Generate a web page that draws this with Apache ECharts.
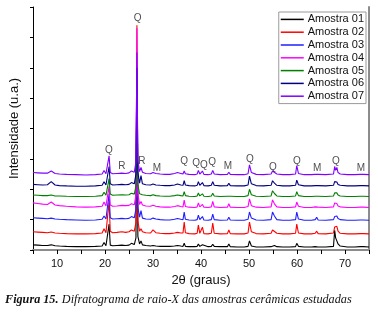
<!DOCTYPE html>
<html>
<head>
<meta charset="utf-8">
<script src="https://cdn.jsdelivr.net/npm/echarts@6/dist/echarts.min.js"></script>
<style>
  html, body { margin: 0; padding: 0; background: #fff; }
  #chart { width: 378px; height: 315px; }
</style>
</head>
<body>
<div id="chart"></div>
<script>
// 2θ grid shared by all samples
const twoTheta = [
  5, 6, 7, 8, 8.8, 9.6, 10.5, 12, 14, 16,
  18, 19.4, 19.8, 20.2, 20.6, 20.85, 21.1, 21.6, 22.5, 23.5,
  24.3, 25, 25.5, 26.1, 26.45, 26.65, 26.85, 27.2, 27.5, 27.8,
  28.5, 29.5, 30, 30.6, 31.5, 32.5, 33.5, 34.5, 35.1, 35.8,
  36.25, 36.5, 36.75, 37.5, 38.7, 39.2, 39.45, 39.75, 40.05, 40.3,
  40.6, 41.5, 42.15, 42.45, 42.75, 44, 45.5, 45.8, 46.1, 47.5,
  49, 49.8, 50.1, 50.5, 51.5, 53, 54.6, 54.9, 55.3, 55.8,
  57, 58.5, 59.7, 59.95, 60.3, 61.5, 63, 63.8, 64.1, 64.4,
  66, 67.6, 67.85, 68.05, 68.3, 68.55, 69, 70.5, 72, 73.2,
  73.5, 73.8, 75
]

// intensities (u.a., already offset as plotted)
const amostra01 = [
  0.17, 0.16, 0.15, 0.15, 0.17, 0.14, 0.13, 0.12, 0.11, 0.11,
  0.12, 0.13, 0.25, 0.14, 0.16, 0.85, 0.16, 0.14, 0.15, 0.16,
  0.15, 0.16, 0.22, 0.18, 0.4, 5.0, 0.45, 0.2, 0.3, 0.17,
  0.15, 0.13, 0.15, 0.13, 0.12, 0.12, 0.12, 0.13, 0.15, 0.13,
  0.12, 0.22, 0.12, 0.11, 0.11, 0.12, 0.2, 0.12, 0.12, 0.17,
  0.11, 0.11, 0.12, 0.19, 0.12, 0.11, 0.11, 0.2, 0.11, 0.1,
  0.1, 0.12, 0.3, 0.13, 0.1, 0.1, 0.11, 0.16, 0.15, 0.11,
  0.1, 0.1, 0.11, 0.22, 0.12, 0.1, 0.1, 0.11, 0.15, 0.1,
  0.1, 0.12, 0.65, 0.4, 0.3, 0.2, 0.13, 0.1, 0.1, 0.11,
  0.16, 0.11, 0.1
]
const amostra02 = [
  0.6, 0.59, 0.58, 0.57, 0.59, 0.56, 0.55, 0.54, 0.53, 0.53,
  0.54, 0.56, 0.7, 0.57, 0.6, 1.6, 0.62, 0.57, 0.58, 0.6,
  0.58, 0.6, 0.66, 0.62, 0.9, 7.4, 0.95, 0.62, 0.7, 0.6,
  0.57, 0.56, 0.66, 0.57, 0.55, 0.54, 0.54, 0.56, 0.58, 0.56,
  0.56, 0.92, 0.57, 0.54, 0.53, 0.55, 0.82, 0.55, 0.56, 0.75,
  0.54, 0.53, 0.55, 0.89, 0.55, 0.53, 0.54, 0.66, 0.54, 0.53,
  0.53, 0.56, 0.92, 0.6, 0.54, 0.53, 0.55, 0.66, 0.64, 0.55,
  0.53, 0.53, 0.55, 0.85, 0.56, 0.53, 0.53, 0.55, 0.62, 0.54,
  0.53, 0.56, 0.76, 0.72, 0.78, 0.62, 0.55, 0.53, 0.53, 0.54,
  0.58, 0.54, 0.53
]
const amostra03 = [
  1.06, 1.05, 1.04, 1.03, 1.05, 1.02, 1.01, 1.0, 0.99, 0.98,
  0.99, 1.01, 1.12, 1.02, 1.05, 1.85, 1.06, 1.02, 1.03, 1.04,
  1.03, 1.04, 1.1, 1.06, 1.35, 5.8, 1.4, 1.08, 1.3, 1.05,
  1.02, 1.01, 1.05, 1.02, 1.0, 0.99, 0.99, 1.01, 1.04, 1.01,
  1.0, 1.25, 1.01, 0.99, 0.98, 1.0, 1.15, 1.0, 1.0, 1.1,
  0.99, 0.98, 1.0, 1.18, 1.0, 0.98, 0.99, 1.08, 0.99, 0.98,
  0.98, 1.01, 1.25, 1.05, 0.99, 0.98, 1.0, 1.25, 1.12, 1.0,
  0.98, 0.98, 1.0, 1.25, 1.02, 0.98, 0.98, 1.0, 1.08, 0.99,
  0.98, 1.0, 1.1, 1.12, 1.12, 1.04, 1.0, 0.98, 0.98, 0.99,
  1.03, 0.99, 0.98
]
const amostra04 = [
  1.55, 1.53, 1.51, 1.5, 1.58, 1.48, 1.46, 1.44, 1.42, 1.41,
  1.42, 1.44, 1.58, 1.45, 1.48, 2.1, 1.48, 1.44, 1.45, 1.47,
  1.46, 1.47, 1.52, 1.49, 1.8, 7.3, 1.85, 1.5, 1.6, 1.48,
  1.45, 1.44, 1.47, 1.44, 1.42, 1.41, 1.41, 1.43, 1.46, 1.43,
  1.42, 1.64, 1.43, 1.41, 1.4, 1.42, 1.55, 1.42, 1.42, 1.5,
  1.41, 1.4, 1.42, 1.6, 1.42, 1.4, 1.41, 1.52, 1.41, 1.4,
  1.4, 1.43, 1.68, 1.46, 1.41, 1.4, 1.42, 1.65, 1.52, 1.42,
  1.4, 1.4, 1.42, 1.58, 1.44, 1.4, 1.4, 1.42, 1.46, 1.41,
  1.4, 1.42, 1.55, 1.5, 1.53, 1.45, 1.42, 1.4, 1.4, 1.41,
  1.45, 1.41, 1.4
]
const amostra05 = [
  1.81, 1.8, 1.79, 1.79, 1.81, 1.78, 1.78, 1.77, 1.76, 1.76,
  1.77, 1.79, 1.9, 1.8, 1.83, 2.35, 1.84, 1.8, 1.81, 1.82,
  1.81, 1.82, 1.87, 1.84, 2.1, 5.5, 2.15, 1.85, 1.9, 1.82,
  1.8, 1.79, 1.82, 1.79, 1.78, 1.77, 1.77, 1.79, 1.81, 1.79,
  1.78, 1.92, 1.79, 1.77, 1.76, 1.78, 1.88, 1.78, 1.78, 1.85,
  1.77, 1.76, 1.78, 1.87, 1.78, 1.76, 1.77, 1.82, 1.77, 1.76,
  1.76, 1.79, 2.0, 1.82, 1.77, 1.76, 1.78, 1.95, 1.86, 1.78,
  1.76, 1.76, 1.78, 1.92, 1.79, 1.76, 1.76, 1.77, 1.8, 1.77,
  1.76, 1.78, 1.88, 1.85, 1.88, 1.81, 1.78, 1.76, 1.76, 1.77,
  1.8, 1.77, 1.76
]
const amostra06 = [
  2.16, 2.15, 2.14, 2.15, 2.25, 2.14, 2.12, 2.11, 2.1, 2.1,
  2.11, 2.13, 2.25, 2.14, 2.17, 2.75, 2.18, 2.14, 2.15, 2.16,
  2.15, 2.16, 2.22, 2.18, 2.5, 6.0, 2.55, 2.2, 2.45, 2.18,
  2.15, 2.14, 2.17, 2.14, 2.13, 2.12, 2.12, 2.14, 2.17, 2.14,
  2.13, 2.28, 2.14, 2.12, 2.11, 2.13, 2.25, 2.13, 2.13, 2.22,
  2.12, 2.11, 2.13, 2.25, 2.13, 2.11, 2.12, 2.2, 2.12, 2.11,
  2.11, 2.14, 2.43, 2.18, 2.12, 2.11, 2.13, 2.28, 2.2, 2.13,
  2.11, 2.11, 2.13, 2.3, 2.15, 2.11, 2.11, 2.12, 2.18, 2.12,
  2.11, 2.13, 2.25, 2.2, 2.24, 2.16, 2.13, 2.11, 2.11, 2.12,
  2.17, 2.12, 2.11
]
const amostra07 = [
  2.55, 2.54, 2.53, 2.53, 2.6, 2.52, 2.5, 2.49, 2.48, 2.47,
  2.48, 2.5, 2.62, 2.51, 2.54, 3.1, 2.55, 2.51, 2.52, 2.53,
  2.52, 2.54, 2.6, 2.56, 2.9, 6.5, 2.95, 2.58, 2.72, 2.56,
  2.52, 2.51, 2.55, 2.52, 2.5, 2.49, 2.49, 2.52, 2.55, 2.52,
  2.5, 2.6, 2.51, 2.49, 2.48, 2.5, 2.62, 2.5, 2.5, 2.6,
  2.49, 2.48, 2.5, 2.62, 2.5, 2.48, 2.49, 2.56, 2.49, 2.48,
  2.48, 2.51, 2.8, 2.55, 2.49, 2.48, 2.5, 2.6, 2.55, 2.5,
  2.48, 2.48, 2.5, 2.78, 2.52, 2.48, 2.48, 2.49, 2.53, 2.49,
  2.48, 2.5, 2.75, 2.62, 2.72, 2.55, 2.5, 2.48, 2.48, 2.49,
  2.55, 2.49, 2.48
]

const sampleNames = ["Amostra 01", "Amostra 02", "Amostra 03", "Amostra 04", "Amostra 05", "Amostra 06", "Amostra 07"]
const sampleColors = ["#000000", "#ff0000", "#1f1fff", "#ff00ff", "#008000", "#000080", "#8000ff"]
const samples = [amostra01, amostra02, amostra03, amostra04, amostra05, amostra06, amostra07]

// phase markers (Q quartzo, R, M)
const phaseText = ["Q", "R", "Q", "R", "M", "Q", "Q", "Q", "Q", "M", "Q", "Q", "Q", "M", "Q", "M"]
const phaseX = [20.8, 23.5, 26.8, 27.7, 30.8, 36.5, 39.0, 40.6, 42.3, 45.6, 50.2, 55.0, 60.0, 64.2, 68.1, 73.3]
const phaseY = [3.3, 2.76, 7.63, 2.93, 2.7, 2.93, 2.86, 2.8, 2.88, 2.76, 2.98, 2.73, 2.93, 2.7, 2.93, 2.7]

const xTicks = [5, 75, 5]    // min, max, interval
const yTicks = [0, 8, 1]

const chart = echarts.init(document.getElementById("chart"))

const lineSeries = samples.map((vals, i) => ({
  name: sampleNames[i],
  type: "line",
  data: twoTheta.map((t, j) => [t, vals[j]]),
  showSymbol: false,
  symbol: "none",
  sampling: "none",
  lineStyle: { color: sampleColors[i], width: 1.1 },
  itemStyle: { color: sampleColors[i] },
  z: 2 + i,
}))

const option = {
  animation: false,
  backgroundColor: "#fff",
  textStyle: { fontFamily: "Liberation Sans, Arial, sans-serif" },
  grid: { left: 32, right: 9, top: 7, bottom: 65 },
  legend: {
    data: sampleNames,
    orient: "vertical",
    right: 12,
    top: 12,
    icon: "rect",
    itemWidth: 23,
    itemHeight: 1.5,
    itemGap: 0,
    padding: [1, 2, 1, 2],
    borderColor: "#9a9a9a",
    borderWidth: 1,
    backgroundColor: "#fff",
    textStyle: { fontSize: 11, color: "#111", padding: [0, 0, 0, -1], lineHeight: 12.8 },
  },
  xAxis: [
    {
      type: "value",
      min: xTicks[0],
      max: xTicks[1],
      interval: xTicks[2],
      name: "2θ (graus)",
      nameLocation: "middle",
      nameGap: 20,
      nameTextStyle: { fontSize: 13, color: "#111" },
      axisLine: { lineStyle: { color: "#000", width: 1 } },
      axisTick: { inside: false, length: 4, lineStyle: { color: "#000" } },
      axisLabel: {
        fontSize: 11,
        color: "#111",
        margin: 8,
        formatter: v => (v % 10 === 0 ? String(v) : ""),
      },
      splitLine: { show: false },
    },
    {
      type: "value",
      position: "top",
      min: xTicks[0],
      max: xTicks[1],
      axisLine: { show: true, lineStyle: { color: "#8c8c8c", width: 2 } },
      axisTick: { show: false },
      axisLabel: { show: false },
      splitLine: { show: false },
    },
  ],
  yAxis: [
    {
      type: "value",
      min: yTicks[0],
      max: yTicks[1],
      interval: yTicks[2],
      name: "Intensidade (u.a.)",
      nameLocation: "middle",
      nameGap: 12,
      nameTextStyle: { fontSize: 13, color: "#111" },
      axisLine: { show: true, lineStyle: { color: "#000", width: 1 } },
      axisTick: { show: true, length: 3, lineStyle: { color: "#000" } },
      axisLabel: { show: false },
      splitLine: { show: false },
    },
    {
      type: "value",
      position: "right",
      min: yTicks[0],
      max: yTicks[1],
      axisLine: { show: true, lineStyle: { color: "#8c8c8c", width: 2 } },
      axisTick: { show: false },
      axisLabel: { show: false },
      splitLine: { show: false },
    },
  ],
  series: [
    ...lineSeries,
    {
      name: "fases",
      type: "scatter",
      data: phaseX.map((x, i) => [x, phaseY[i], phaseText[i]]),
      symbolSize: 0,
      z: 20,
      label: {
        show: true,
        position: "inside",
        formatter: p => p.data[2],
        fontSize: 10,
        color: "#222",
      },
      silent: true,
    },
  ],
  graphic: [
    {
      type: "text",
      left: 5,
      top: 294,
      style: {
        text: "{b|Figura 15.} {i|Difratograma de raio-X das amostras cerâmicas estudadas}",
        rich: {
          b: { fontFamily: "Liberation Serif", fontStyle: "italic", fontWeight: "bold", fontSize: 12.2, fill: "#111" },
          i: { fontFamily: "Liberation Serif", fontStyle: "italic", fontSize: 12.2, fill: "#111" },
        },
      },
    },
  ],
}

chart.setOption(option)
</script>
</body>
</html>
